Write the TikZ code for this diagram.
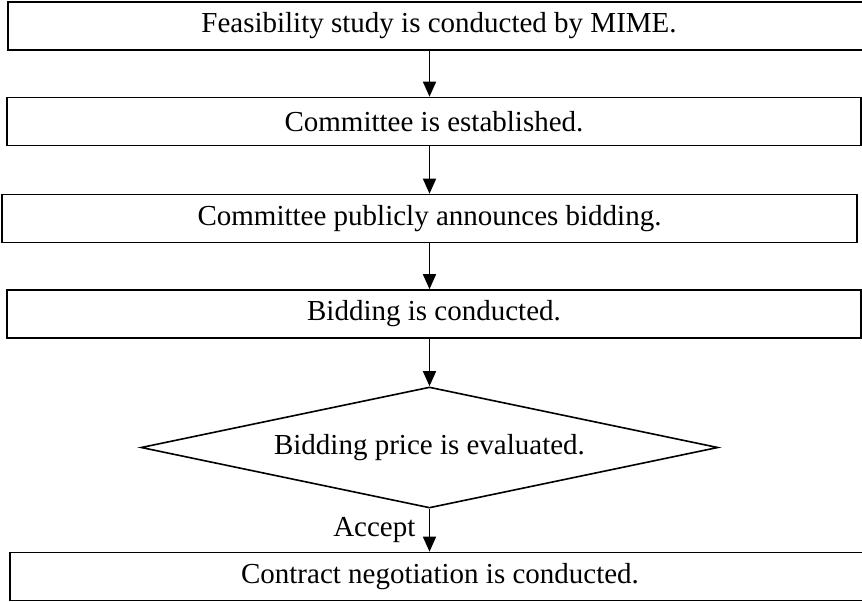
\documentclass[tikz,border=0pt]{standalone}
\usepackage{fontspec}
\setmainfont{Liberation Serif}
\usetikzlibrary{arrows.meta,shapes.geometric}
\begin{document}
\begin{tikzpicture}[x=1pt,y=-1pt,
  every node/.style={font=\fontsize{29}{33}\selectfont},
  stepbox/.style={draw,line width=1.6pt,inner sep=0pt,minimum height=48pt},
  decision/.style={draw,line width=1.6pt,diamond,inner sep=0pt,shape aspect=4.77,
    minimum width=577pt,minimum height=121pt},
  flow/.style={line width=1.5pt,-{Triangle[length=15pt,width=13pt]}}]
\useasboundingbox (0,0) rectangle (862,602);
% process boxes, top to bottom
\node[stepbox,minimum width=862pt] (b1) at (439,26) {Feasibility study is conducted by MIME.};
\node[stepbox,minimum width=854pt] (b2) at (434,121.5) {Committee is established.};
\node[stepbox,minimum width=855pt] (b3) at (429.5,218.5) {Committee publicly announces bidding.};
\node[stepbox,minimum width=854pt] (b4) at (434,314) {Bidding is conducted.};
\node[decision] (d) at (429.5,447.5) {Bidding price is evaluated.};
\node[stepbox,minimum width=860pt] (b6) at (440,576.5) {Contract negotiation is conducted.};
% connectors along the central spine
\draw[flow] (b1.south -| d.north) -- (b2.north -| d.north);
\draw[flow] (b2.south -| d.north) -- (b3.north -| d.north);
\draw[flow] (b3.south -| d.north) -- (b4.north -| d.north);
\draw[flow] (b4.south -| d.north) -- (d.north);
\draw[flow] (d.south) -- node[left,xshift=-10pt] {Accept} (b6.north -| d.south);
\end{tikzpicture}
\end{document}
